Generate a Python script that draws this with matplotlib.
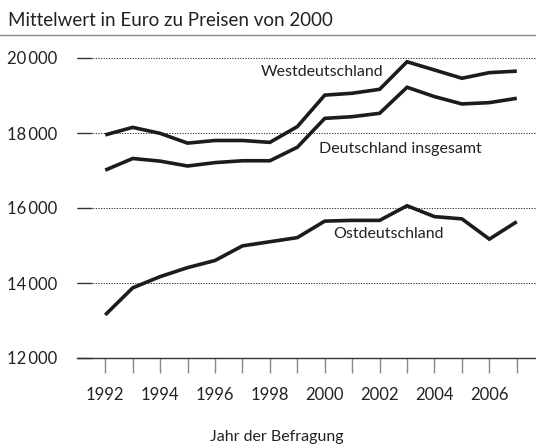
import matplotlib
matplotlib.use("Agg")
import matplotlib.pyplot as plt
from matplotlib.lines import Line2D

plt.rcParams['font.family'] = ['Lato', 'DejaVu Sans']

# Daten (Mittelwert in Euro, Preise von 2000)
jahre = list(range(1992, 2008))
west = [17950, 18150, 17990, 17730, 17800, 17800, 17750, 18170, 19010,
        19060, 19165, 19900, 19680, 19460, 19610, 19650]
gesamt = [17010, 17320, 17250, 17120, 17210, 17260, 17260, 17620, 18390,
          18435, 18525, 19220, 18970, 18775, 18810, 18925]
ost = [13150, 13870, 14170, 14410, 14600, 14990, 15100, 15210, 15650,
       15670, 15670, 16060, 15770, 15710, 15170, 15635]

yticks = [12000, 14000, 16000, 18000, 20000]
ytick_labels = ['12\u2009000', '14\u2009000', '16\u2009000', '18\u2009000', '20\u2009000']
xticks_lab = list(range(1992, 2007, 2))

fig = plt.figure(figsize=(5.36, 4.46), dpi=100)
ax = fig.add_axes([77/536, 88/446, 1 - 77/536, (358 - 46.75)/446])

col = '#1c1c1c'
for serie in (west, gesamt, ost):
    ax.plot(jahre, serie, color=col, lw=2.6, solid_capstyle='butt',
            solid_joinstyle='miter', zorder=3)

ax.set_xlim(1990.97, 2007.7)
ax.set_ylim(12000, 20300)

ax.set_yticks(yticks)
ax.set_yticklabels(ytick_labels, fontsize=12, color='#222222')
ax.tick_params(axis='y', direction='in', length=11, width=1, color='#333333', pad=14)
ax.yaxis.grid(True, linestyle=(0, (1.2, 1.5)), color='#222222', lw=0.7)

ax.set_xticks(jahre, minor=False)
ax.set_xticklabels([str(j) if j in xticks_lab else '' for j in jahre],
                   fontsize=12, color='#222222')
ax.tick_params(axis='x', direction='out', length=11, width=1, color='#888888', pad=10)

for s in ('top', 'right', 'left'):
    ax.spines[s].set_visible(False)
ax.spines['bottom'].set_color('#333333')
ax.spines['bottom'].set_linewidth(1)

ax.text(1999.9, 19620, 'Westdeutschland', fontsize=11.5, ha='center', va='center', color='#222222')
ax.text(1999.8, 17580, 'Deutschland insgesamt', fontsize=11.5, ha='left', va='center', color='#222222')
ax.text(2000.3, 15320, 'Ostdeutschland', fontsize=11.5, ha='left', va='center', color='#222222')

fig.text(277/536, 1 - 437/446, 'Jahr der Befragung', fontsize=11.5,
         ha='center', va='center', color='#222222')
fig.text(8/536, 1 - 20/446, 'Mittelwert in Euro zu Preisen von 2000', fontsize=13.5,
         ha='left', va='center', color='#222222')
fig.add_artist(Line2D([0, 1], [1 - 35/446, 1 - 35/446], transform=fig.transFigure,
                      color='#888888', lw=1))

fig.savefig('out.png', dpi=100)
